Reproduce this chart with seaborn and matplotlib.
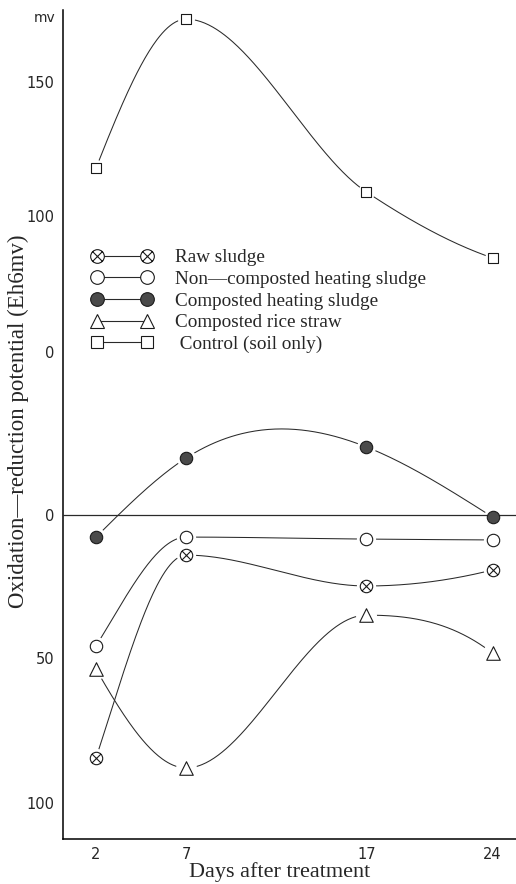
import numpy as np
import matplotlib
matplotlib.use('Agg')
import matplotlib.pyplot as plt
import seaborn as sns
from matplotlib.path import Path
from matplotlib.lines import Line2D

# values (mV), days after treatment
days = [2, 7, 17, 24]
raw_sludge = [-84.5, -14.0, -24.8, -19.2]
non_composted = [-45.8, -7.7, -8.4, -8.7]
composted_heating = [-7.7, 17.5, 20.9, -0.7]
rice_straw = [-53.8, -87.9, -35.0, -48.3]
control = [117.9, 173.5, 109.0, 84.6]

series_names = ['Raw sludge', 'Non\u2014composted heating sludge',
                'Composted heating sludge', 'Composted rice straw',
                ' Control (soil only)']
series_values = [raw_sludge, non_composted, composted_heating, rice_straw, control]
# how each hand-drawn curve is smoothed
curve_kind = ['pchip', 'pchip', 'spline', 'pchip', 'pchip']

ytick_values = [150, 100, 50, 0, -50, -100]
ytick_labels = ['150', '100', '0', '0', '50', '100']

# the printed axis is not evenly spaced: piecewise-linear scale
scale_vals = [-150, -100, -50, 0, 50, 100, 150, 200]
scale_pos = [-948, -803, -658, -515, -352, -216, -82, 52]


def fwd(v):
    return np.interp(v, scale_vals, scale_pos)


def inv(p):
    return np.interp(p, scale_pos, scale_vals)


def pchip(x, y, xs):
    """Shape-preserving cubic through the points."""
    x = np.asarray(x, float)
    y = np.asarray(y, float)
    h = np.diff(x)
    m = np.diff(y) / h
    n = len(x)
    d = np.zeros(n)
    for k in range(1, n - 1):
        if m[k - 1] * m[k] > 0:
            w1 = 2 * h[k] + h[k - 1]
            w2 = h[k] + 2 * h[k - 1]
            d[k] = (w1 + w2) / (w1 / m[k - 1] + w2 / m[k])

    def edge(h0, h1, m0, m1):
        dd = ((2 * h0 + h1) * m0 - h0 * m1) / (h0 + h1)
        if np.sign(dd) != np.sign(m0):
            dd = 0.0
        elif np.sign(m0) != np.sign(m1) and abs(dd) > abs(3 * m0):
            dd = 3 * m0
        return dd

    d[0] = edge(h[0], h[1], m[0], m[1])
    d[-1] = edge(h[-1], h[-2], m[-1], m[-2])
    idx = np.clip(np.searchsorted(x, xs) - 1, 0, n - 2)
    t = (xs - x[idx]) / h[idx]
    h00 = 2 * t**3 - 3 * t**2 + 1
    h10 = t**3 - 2 * t**2 + t
    h01 = -2 * t**3 + 3 * t**2
    h11 = t**3 - t**2
    return h00 * y[idx] + h10 * h[idx] * d[idx] + h01 * y[idx + 1] + h11 * h[idx] * d[idx + 1]


def natural_spline(x, y, xs):
    x = np.asarray(x, float)
    y = np.asarray(y, float)
    n = len(x)
    h = np.diff(x)
    m = np.diff(y) / h
    A = np.zeros((n, n))
    b = np.zeros(n)
    A[0, 0] = A[-1, -1] = 1
    for i in range(1, n - 1):
        A[i, i - 1] = h[i - 1]
        A[i, i] = 2 * (h[i - 1] + h[i])
        A[i, i + 1] = h[i]
        b[i] = 6 * (m[i] - m[i - 1])
    M = np.linalg.solve(A, b)
    i = np.clip(np.searchsorted(x, xs) - 1, 0, n - 2)
    hi = h[i]
    a = x[i + 1] - xs
    c = xs - x[i]
    return (M[i] * a**3 / (6 * hi) + M[i + 1] * c**3 / (6 * hi)
            + (y[i] / hi - M[i] * hi / 6) * a + (y[i + 1] / hi - M[i + 1] * hi / 6) * c)


# circle with a cross inside
circ = Path.unit_circle()
c = 0.707
circx = Path(np.concatenate([circ.vertices, [[-c, -c], [c, c], [-c, c], [c, -c]]]),
             np.concatenate([circ.codes, [Path.MOVETO, Path.LINETO, Path.MOVETO, Path.LINETO]]))

marker_styles = [
    dict(marker=circx, fc='white', s=80),
    dict(marker='o', fc='white', s=80),
    dict(marker='o', fc='#4a4a4a', s=80),
    dict(marker='^', fc='white', s=95),
    dict(marker='s', fc='white', s=62),
]

sns.set_theme(style='white')
plt.rcParams['font.family'] = ['DejaVu Sans']
line_col = '#2a2a2a'

fig = plt.figure(figsize=(5.16, 8.84), dpi=100)
ax = fig.add_axes([63 / 516, 1 - 839 / 884, 1 - 63 / 516, (839 - 10) / 884])
ax.set_yscale('function', functions=(fwd, inv))

ax.axhline(0, color=line_col, lw=0.9, zorder=3.5)

xs = np.linspace(days[0], days[-1], 300)
handles = []
for name, vals, kind, st in zip(series_names, series_values, curve_kind, marker_styles):
    smooth = pchip if kind == 'pchip' else natural_spline
    ys = inv(smooth(days, fwd(np.array(vals)), xs))
    sns.lineplot(x=xs, y=ys, ax=ax, color=line_col, lw=0.75, zorder=2,
                 estimator=None, sort=False)
    # white halo so the curve stops short of each marker
    sns.scatterplot(x=days, y=vals, ax=ax, marker='o', s=st['s'] * 2.4,
                    color='white', edgecolor='white', linewidth=0, zorder=3)
    sns.scatterplot(x=days, y=vals, ax=ax, marker=st['marker'], s=st['s'],
                    facecolor=st['fc'], edgecolor='#1a1a1a', linewidth=0.8, zorder=4)
    handles.append(Line2D([], [], color=line_col, lw=0.8, marker=st['marker'],
                          markersize=np.sqrt(st['s']) * 1.1, markerfacecolor=st['fc'],
                          markeredgecolor='#1a1a1a', markeredgewidth=0.8, label=name))

ax.set_xlim(0.17, 25.3)
ax.set_ylim(-112.4, 176.9)
ax.set_xticks(days)
ax.set_xticklabels([str(d) for d in days], fontsize=10.5)
ax.set_yticks(ytick_values)
ax.set_yticklabels(ytick_labels, fontsize=10.5)
ax.minorticks_off()
ax.tick_params(axis='x', direction='in', length=5, width=0.8, color='black', pad=6)
ax.tick_params(axis='y', direction='inout', length=6, width=0.8, color='black', pad=3)

sns.despine(ax=ax)
for sp in ['left', 'bottom']:
    ax.spines[sp].set_color('black')
    ax.spines[sp].set_linewidth(1.1)

leg = ax.legend(handles=handles, numpoints=2, frameon=False, loc='upper left',
                bbox_to_anchor=(91 / 516, 1 - 249 / 884), bbox_transform=fig.transFigure,
                handlelength=3.2, handletextpad=1.16, labelspacing=0.22, borderpad=0,
                borderaxespad=0, prop={'family': 'Liberation Serif', 'size': 13.8})

fig.text(45 / 516, 1 - 18 / 884, 'mv', fontsize=10, ha='center', va='center')
fig.text(18 / 516, 1 - 421 / 884, 'Oxidation\u2014reduction potential (Eh6mv)',
         rotation=90, ha='center', va='center', family='Liberation Serif', fontsize=16.5)
fig.text(280 / 516, 1 - 872 / 884, 'Days after treatment', ha='center', va='center',
         family='Liberation Serif', fontsize=16)

fig.savefig('out.png', dpi=100, facecolor='white')
